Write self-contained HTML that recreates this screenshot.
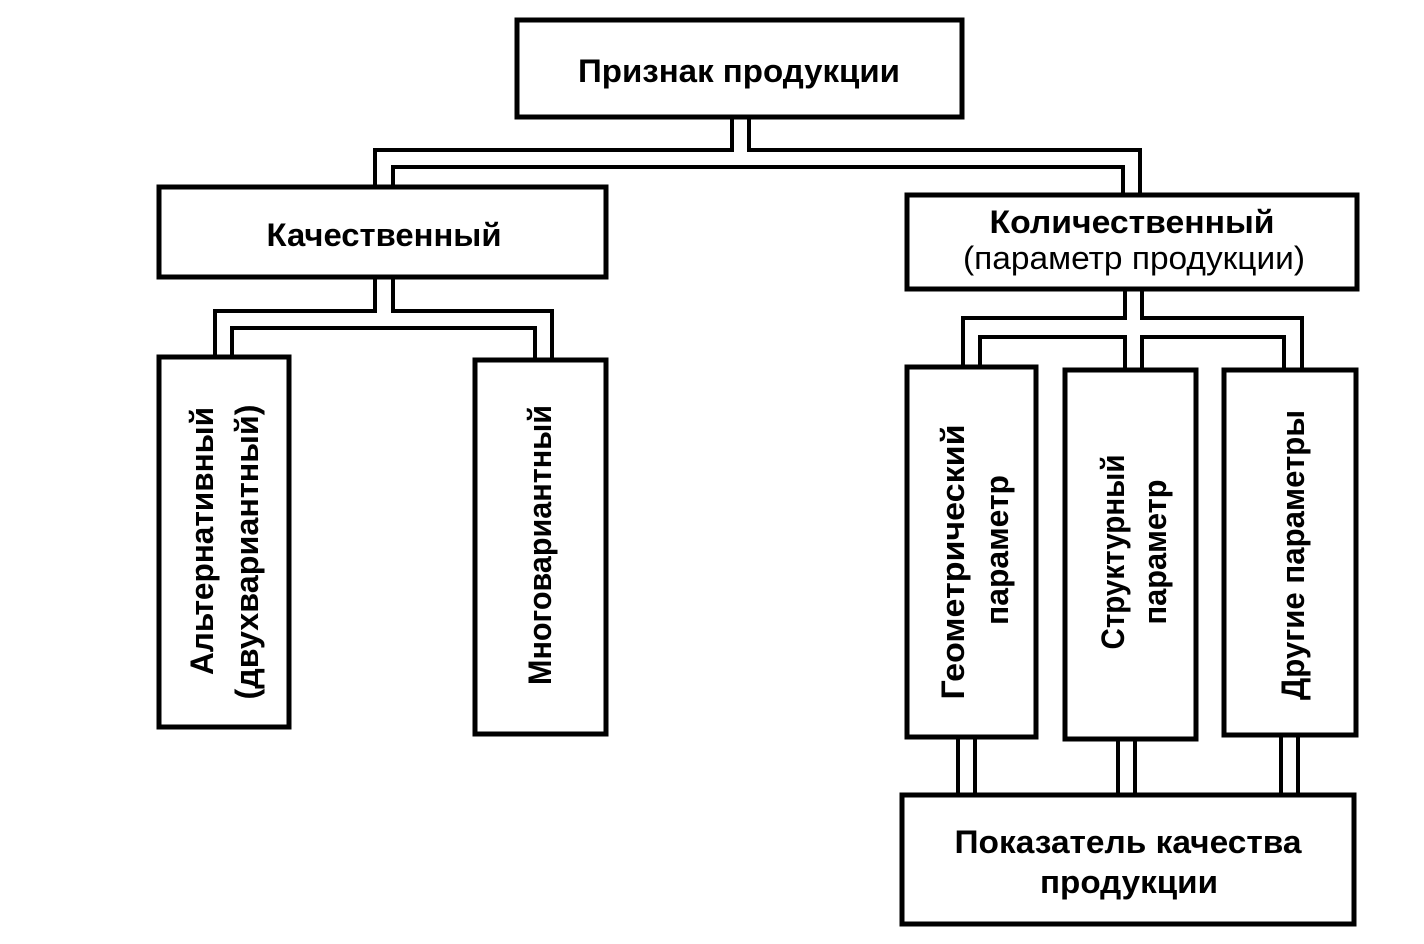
<!DOCTYPE html>
<html><head><meta charset="utf-8"><style>
html,body{margin:0;padding:0;background:#fff;width:1424px;height:944px;overflow:hidden}
svg{display:block}
text{font-family:"Liberation Sans",sans-serif;font-weight:bold;font-size:32px;fill:#000}
</style></head><body>
<svg width="1424" height="944" viewBox="0 0 1424 944">
<g fill="none" stroke="#000" stroke-width="5">
<rect x="517" y="20" width="445" height="97"/>
<rect x="159" y="187" width="447" height="90"/>
<rect x="907" y="195" width="450" height="94"/>
<rect x="159" y="357" width="130" height="370"/>
<rect x="475" y="360" width="131" height="374"/>
<rect x="907" y="367" width="129" height="370"/>
<rect x="1065" y="370" width="131" height="369"/>
<rect x="1224" y="370" width="132" height="365"/>
<rect x="902" y="795" width="452" height="129"/>
</g>
<g fill="none" stroke="#000" stroke-width="4">
<polyline points="732,117 732,150 375,150 375,187"/>
<polyline points="749,117 749,150 1140,150 1140,195"/>
<polyline points="393,187 393,167 1123,167 1123,195"/>
<polyline points="375,277 375,311 215,311 215,357"/>
<polyline points="393,277 393,311 552,311 552,360"/>
<polyline points="232,357 232,328 535,328 535,360"/>
<polyline points="1125,289 1125,318 963,318 963,367"/>
<polyline points="1142,289 1142,318 1302,318 1302,370"/>
<polyline points="980,367 980,337 1125,337 1125,370"/>
<polyline points="1142,370 1142,337 1284,337 1284,370"/>
<line x1="958" y1="737" x2="958" y2="795"/><line x1="975" y1="737" x2="975" y2="795"/>
<line x1="1118" y1="739" x2="1118" y2="795"/><line x1="1135" y1="739" x2="1135" y2="795"/>
<line x1="1281" y1="735" x2="1281" y2="795"/><line x1="1298" y1="735" x2="1298" y2="795"/>
</g>
<text x="739" y="82" text-anchor="middle" textLength="322" lengthAdjust="spacingAndGlyphs">Признак продукции</text>
<text x="384" y="246" text-anchor="middle" textLength="235" lengthAdjust="spacingAndGlyphs">Качественный</text>
<text x="1132" y="233" text-anchor="middle" textLength="285" lengthAdjust="spacingAndGlyphs">Количественный</text>
<text x="1134" y="269" text-anchor="middle" textLength="342" lengthAdjust="spacingAndGlyphs" style="font-weight:normal">(параметр продукции)</text>
<text x="1128" y="853" text-anchor="middle" textLength="347" lengthAdjust="spacingAndGlyphs">Показатель качества</text>
<text x="1129" y="893" text-anchor="middle" textLength="178" lengthAdjust="spacingAndGlyphs">продукции</text>
<text transform="translate(213,541) rotate(-90)" text-anchor="middle" textLength="268" lengthAdjust="spacingAndGlyphs">Альтернативный</text>
<text transform="translate(258,552) rotate(-90)" text-anchor="middle" textLength="295" lengthAdjust="spacingAndGlyphs">(двухвариантный)</text>
<text transform="translate(551,545) rotate(-90)" text-anchor="middle" textLength="280" lengthAdjust="spacingAndGlyphs">Многовариантный</text>
<text transform="translate(964,562) rotate(-90)" text-anchor="middle" textLength="275" lengthAdjust="spacingAndGlyphs">Геометрический</text>
<text transform="translate(1008,550) rotate(-90)" text-anchor="middle" textLength="150" lengthAdjust="spacingAndGlyphs">параметр</text>
<text transform="translate(1124,552) rotate(-90)" text-anchor="middle" textLength="195" lengthAdjust="spacingAndGlyphs">Структурный</text>
<text transform="translate(1166,552) rotate(-90)" text-anchor="middle" textLength="145" lengthAdjust="spacingAndGlyphs">параметр</text>
<text transform="translate(1304,555) rotate(-90)" text-anchor="middle" textLength="290" lengthAdjust="spacingAndGlyphs">Другие параметры</text>
</svg>
</body></html>
